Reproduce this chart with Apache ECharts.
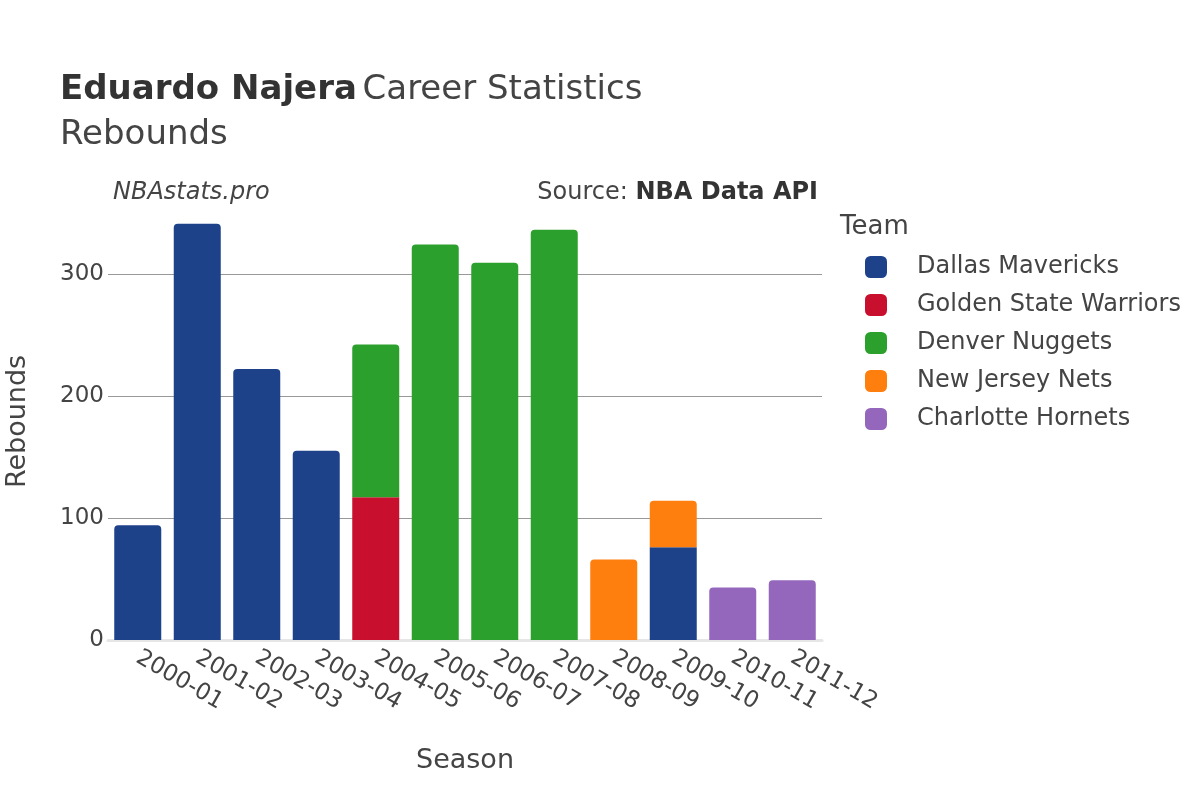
<!DOCTYPE html>
<html>
<head>
<meta charset="utf-8">
<script src="https://cdn.jsdelivr.net/npm/echarts@6/dist/echarts.min.js"></script>
<style>html,body{margin:0;padding:0;background:#fff}#c{width:1200px;height:800px}</style>
</head>
<body>
<div id="c"></div>
<script>
const seasons = ["2000-01","2001-02","2002-03","2003-04","2004-05","2005-06","2006-07","2007-08","2008-09","2009-10","2010-11","2011-12"];
const teams = ["Dallas Mavericks","Golden State Warriors","Denver Nuggets","New Jersey Nets","Charlotte Hornets"];
const teamColors = ["#1d428a","#c8102e","#2ca02c","#ff7f0e","#9467bd"];
const dallas      = [94, 341, 222, 155, null, null, null, null, null, 76, null, null];
const goldenState = [null, null, null, null, 117, null, null, null, null, null, null, null];
const denver      = [null, null, null, null, 125, 324, 309, 336, null, null, null, null];
const newJersey   = [null, null, null, null, null, null, null, null, 66, 38, null, null];
const charlotte   = [null, null, null, null, null, null, null, null, null, null, 43, 49];
const yTicks = [0, 100, 200, 300];

const seriesValues = [dallas, goldenState, denver, newJersey, charlotte];
const FONT = "'DejaVu Sans', sans-serif";
const TXT = '#444';

const topIdx = seasons.map((_, i) => {
  let t = -1;
  seriesValues.forEach((arr, s) => { if (arr[i] != null) t = s; });
  return t;
});

const series = teams.map((name, s) => ({
  name,
  type: 'bar',
  stack: 'total',
  barCategoryGap: '21%',
  itemStyle: { color: teamColors[s] },
  data: seriesValues[s].map((v, i) => v == null ? null : {
    value: v,
    itemStyle: { borderRadius: topIdx[i] === s ? [4,4,0,0] : 0 }
  })
}));

const chart = echarts.init(document.getElementById('c'), null, { renderer: 'canvas' });
chart.setOption({
  backgroundColor: '#fff',
  animation: false,
  textStyle: { fontFamily: FONT },
  title: [
    {
      text: '{b|Eduardo Najera} {n|Career Statistics}',
      left: 60, top: 73, padding: 0,
      textStyle: { fontWeight: 'normal', rich: {
        b: { fontFamily: FONT, fontSize: 34, fontWeight: 'bold', color: '#333' },
        n: { fontFamily: FONT, fontSize: 34, fontWeight: 'normal', color: TXT }
      } }
    },
    {
      text: 'Rebounds',
      left: 60, top: 118, padding: 0,
      textStyle: { fontFamily: FONT, fontSize: 34, fontWeight: 'normal', color: TXT }
    },
    {
      text: 'NBAstats.pro',
      left: 113, top: 181, padding: 0,
      textStyle: { fontFamily: FONT, fontSize: 24, fontStyle: 'italic', fontWeight: 'normal', color: TXT }
    },
    {
      text: '{n|Source: }{b|NBA Data API}',
      right: 382, top: 181, padding: 0,
      textStyle: { fontWeight: 'normal', rich: {
        n: { fontFamily: FONT, fontSize: 24, fontWeight: 'normal', color: TXT },
        b: { fontFamily: FONT, fontSize: 24, fontWeight: 'bold', color: '#333' }
      } }
    },
    {
      text: 'Team',
      left: 840, top: 214, padding: 0,
      textStyle: { fontFamily: FONT, fontSize: 26, fontWeight: 'normal', color: TXT }
    }
  ],
  legend: {
    orient: 'vertical',
    left: 865, top: 255, padding: 0,
    itemWidth: 22, itemHeight: 22,
    itemGap: 14,
    icon: 'roundRect',
    data: teams,
    textStyle: { fontFamily: FONT, fontSize: 24, lineHeight: 24, color: TXT, padding: [0,0,0,25] }
  },
  grid: { left: 108, right: 378, top: 203, bottom: 160, outerBoundsMode: 'none', containLabel: false },
  xAxis: {
    type: 'category',
    data: seasons,
    name: 'Season',
    nameLocation: 'middle',
    nameGap: 107,
    nameTextStyle: { fontFamily: FONT, fontSize: 27, color: TXT },
    axisLine: { lineStyle: { color: '#e6e6e6', width: 3 } },
    axisTick: { show: false },
    axisLabel: { interval: 0, rotate: -30, fontFamily: FONT, fontSize: 23, color: TXT, margin: 16 }
  },
  yAxis: {
    type: 'value',
    min: 0, max: 358, interval: 100,
    name: 'Rebounds',
    nameLocation: 'middle',
    nameGap: 77,
    nameTextStyle: { fontFamily: FONT, fontSize: 27, color: TXT },
    axisLine: { show: false },
    axisTick: { show: false },
    splitLine: { lineStyle: { color: ['#999','#999','#999','#999','rgba(0,0,0,0)'], width: 1 } },
    axisLabel: {
      fontFamily: FONT, fontSize: 23, color: TXT, margin: 4,
      formatter: v => yTicks.includes(v) ? String(v) : ''
    }
  },
  series
});
</script>
</body>
</html>
